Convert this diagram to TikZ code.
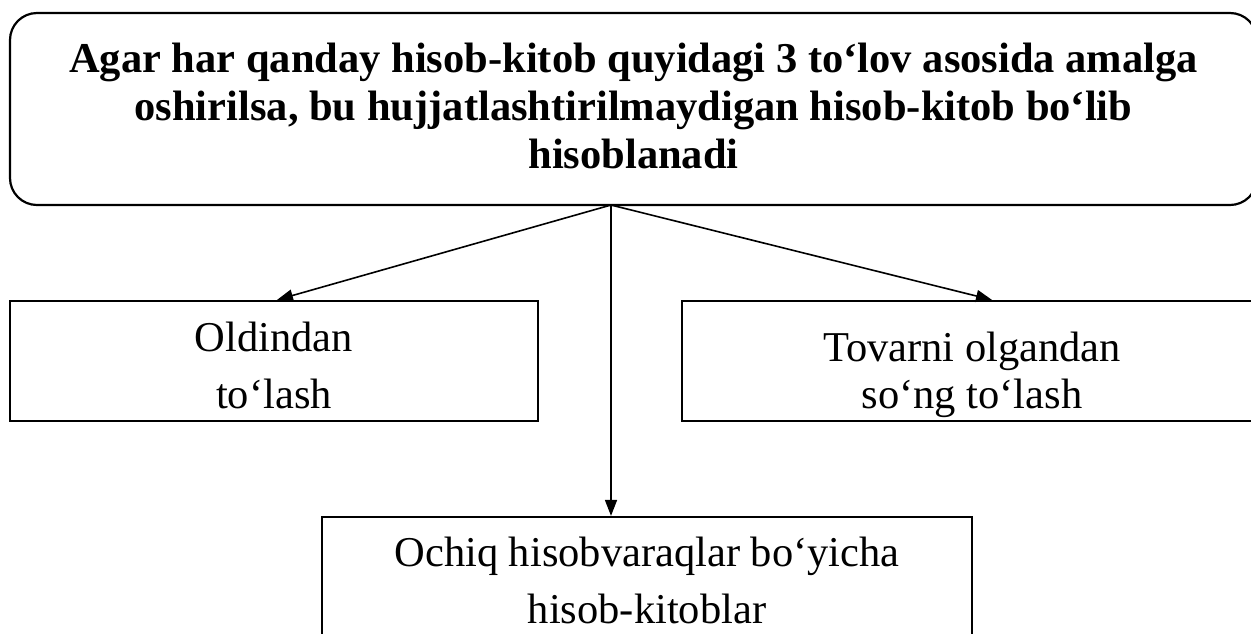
\documentclass[tikz,border=0pt]{standalone}
\usepackage{fontspec}
\setmainfont{Liberation Serif}
\usetikzlibrary{arrows.meta,calc}
\begin{document}
\begin{tikzpicture}[x=0.5pt,y=-0.5pt,
  box/.style={draw,line width=1.1pt,inner sep=0pt},
  headbox/.style={box,rounded corners=13.5pt},
  txt/.style={inner sep=0pt,align=center},
  conn/.style={line width=0.8pt,-{Triangle[length=8pt,width=6pt]}}]
\useasboundingbox (0,0) rectangle (1251,633);
% boxes
\node[headbox,minimum width=623.5pt,minimum height=96pt] (head) at (633.5,109) {};
\node[box,minimum width=264pt,minimum height=60pt] (left) at (274,361) {};
\node[box,minimum width=290pt,minimum height=60pt] (right) at (972,361) {};
\node[box,minimum width=325pt,minimum height=75pt] (bottom) at (647,592) {};
% texts
\node[txt,font=\fontsize{21.25}{24}\selectfont\bfseries] (headtext) at (633.5,105.5)
  {Agar har qanday hisob-kitob quyidagi 3 to‘lov asosida amalga\\
   oshirilsa, bu hujjatlashtirilmaydigan hisob-kitob bo‘lib\\
   hisoblanadi};
\node[txt,font=\fontsize{21.25}{28.5}\selectfont] (lefttext) at (274,365)
  {Oldindan\\to‘lash};
\node[txt,font=\fontsize{21.25}{23.5}\selectfont] (righttext) at (972,374.5)
  {Tovarni olgandan\\so‘ng to‘lash};
\node[txt,font=\fontsize{21.25}{28.5}\selectfont] (bottomtext) at (647,580.5)
  {Ochiq hisobvaraqlar bo‘yicha\\hisob-kitoblar};
% connectors
\coordinate (hub) at (611,205);
\draw[conn] (hub) -- ([xshift=1.5pt]left.north);
\draw[conn] (hub) -- ([xshift=10pt]right.north);
\draw[conn] (hub) -- (hub |- bottom.north);
\end{tikzpicture}
\end{document}
